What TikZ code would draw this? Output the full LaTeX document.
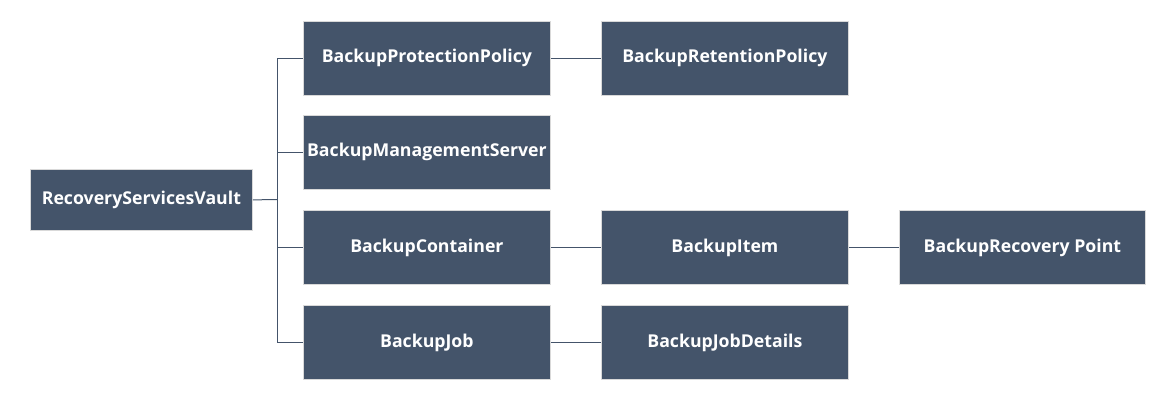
\documentclass[tikz,border=0pt]{standalone}
\usepackage{fontspec}
\setmainfont{Open Sans}
\definecolor{boxfill}{HTML}{44546A}
\definecolor{boxedge}{HTML}{D9D9D9}
\begin{document}
\begin{tikzpicture}[x=1pt,y=-1pt,
  box/.style={draw=boxedge,line width=0.8pt,fill=boxfill,text=white,font=\bfseries\fontsize{17.7}{20}\selectfont,
    minimum width=247pt,minimum height=74pt,inner sep=0pt,anchor=north west},
  conn/.style={draw=boxfill,line width=1pt}]
\useasboundingbox (0,0) rectangle (1162,396);
\node[box,minimum width=222pt,minimum height=61pt] (vault) at (30,169) {RecoveryServicesVault};
\node[box] (prot) at (303,21) {BackupProtectionPolicy};
\node[box] (ret) at (601,21) {BackupRetentionPolicy};
\node[box] (mgmt) at (303,115) {BackupManagementServer};
\node[box] (cont) at (303,210) {BackupContainer};
\node[box] (item) at (601,210) {BackupItem};
\node[box,minimum width=246pt] (rp) at (899,210) {BackupRecovery Point};
\node[box] (job) at (303,305) {BackupJob};
\node[box] (jobd) at (601,305) {BackupJobDetails};
\coordinate (j) at (277,199.5);
\draw[conn] (vault.east) -- (j);
\draw[conn] (j) |- (prot.west);
\draw[conn] (j) |- (mgmt.west);
\draw[conn] (j) |- (cont.west);
\draw[conn] (j) |- (job.west);
\draw[conn] (prot) -- (ret);
\draw[conn] (cont) -- (item);
\draw[conn] (item) -- (rp);
\draw[conn] (job) -- (jobd);
\end{tikzpicture}
\end{document}
